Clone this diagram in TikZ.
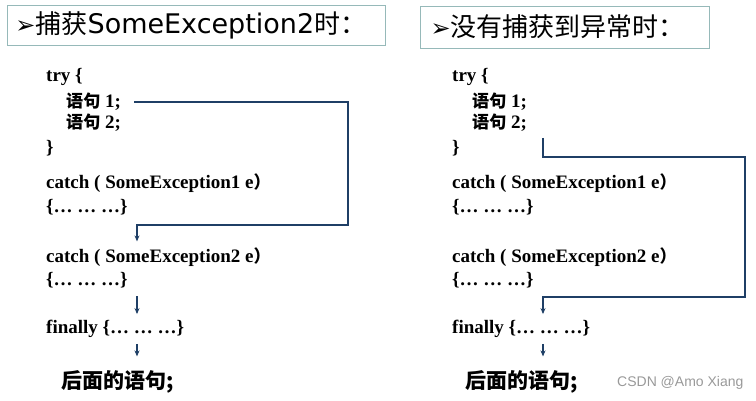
\documentclass[tikz,border=0pt]{standalone}
\usepackage{fontspec}
\setmainfont{Liberation Serif}
\newfontfamily\cjk{Noto Sans CJK SC}[Scale=0.9]
\newfontfamily\cjkbig{Noto Sans CJK SC}
\newfontfamily\titlesans{DejaVu Sans}
\newfontfamily\markfont{Liberation Sans}
\usetikzlibrary{arrows.meta,calc}
\tikzset{>={Stealth[length=6pt,width=5pt]}}
\definecolor{flowblue}{RGB}{31,63,102}
\definecolor{boxline}{RGB}{150,185,185}
\tikzset{
  code/.style={anchor=west,inner sep=0pt,font=\fontsize{19}{22}\selectfont\bfseries},
  after/.style={anchor=west,inner sep=0pt,font=\fontsize{21}{24}\selectfont\cjkbig},
  titlebox/.style={draw=boxline,line width=1pt,anchor=west,align=left,inner ysep=0pt,
    minimum height=40pt,font=\fontsize{26}{28}\selectfont},
  flow/.style={flowblue,line width=1.3pt},
}

\begin{document}
\begin{tikzpicture}[x=1pt,y=-1pt]
\useasboundingbox (0,0) rectangle (756,400);
% titles
\node[titlebox,inner xsep=8pt,text width=362pt] (T1) at (7,25)
  {{\titlesans\fontsize{24}{28}\selectfont ➢}{\cjkbig 捕获}{\titlesans\fontsize{27}{28}\selectfont SomeException2}{\cjkbig 时：}};
\node[titlebox,inner xsep=10pt,text width=269pt,minimum height=42pt] (T2) at (420,27)
  {{\titlesans\fontsize{24}{28}\selectfont ➢}{\cjkbig 没有捕获到异常时：}};
% exception caught in the second catch
\node[code] (try) at (46,77) {try \{};
\node[code] (s1) at (66,102) {{\cjk 语句} 1;};
\node[code] (s2) at (66,123) {{\cjk 语句} 2;};
\node[code] (close) at (46,148) {\}};
\node[code] (c1) at (46,183) {catch ( SomeException1 e{\cjk ）}};
\node[code] (b1) at (46,207) {\{… … …\}};
\node[code] (c2) at (46,257) {catch ( SomeException2 e{\cjk ）}};
\node[code] (b2) at (46,280) {\{… … …\}};
\node[code] (fin) at (46,329) {finally \{… … …\}};
\node[after] (next) at (61,382) {\bfseries 后面的语句;};
\coordinate (turnA) at (348,225);
\draw[flow,->] ($(s1.east)+(13,0)$) -| (turnA) -| ($(c2.north west)+(91,-6)$);
\draw[flow,->] ($(b2.south west)+(91,8)$) -- ($(fin.north west)+(91,-6)$);
\draw[flow,->] ($(fin.south west)+(91,6)$) -- ($(next.north west)+(76,-14)$);
% no exception
\begin{scope}[xshift=406pt]
\node[code] (try) at (46,77) {try \{};
\node[code] (s1) at (66,102) {{\cjk 语句} 1;};
\node[code] (s2) at (66,123) {{\cjk 语句} 2;};
\node[code] (close) at (46,148) {\}};
\node[code] (c1) at (46,183) {catch ( SomeException1 e{\cjk ）}};
\node[code] (b1) at (46,207) {\{… … …\}};
\node[code] (c2) at (46,257) {catch ( SomeException2 e{\cjk ）}};
\node[code] (b2) at (46,280) {\{… … …\}};
\node[code] (fin) at (46,329) {finally \{… … …\}};
\node[after] (next) at (59,382) {\bfseries 后面的语句;};
\coordinate (turnB) at (339,157);
\coordinate (backB) at (339,297);
\draw[flow,->] ($(s2.south west)+(71,6)$) |- (turnB) -- (backB) -| ($(fin.north west)+(91,-6)$);
\draw[flow,->] ($(fin.south west)+(91,6)$) -- ($(next.north west)+(78,-14)$);
\end{scope}
\node[anchor=west,inner sep=0pt,text=black!40,font=\fontsize{14}{16}\selectfont\markfont]
  (mark) at (617,383) {CSDN @Amo Xiang};
\end{tikzpicture}
\end{document}
